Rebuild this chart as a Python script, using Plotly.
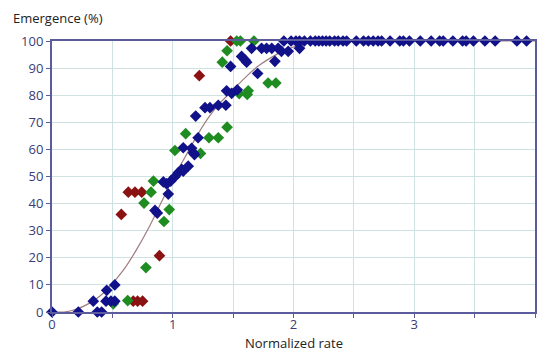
import plotly.graph_objects as go

# Blue series
blue_x = [0.0, 0.218, 0.342, 0.375, 0.411, 0.447, 0.453, 0.488, 0.52, 0.52,
          0.853, 0.872, 0.963, 0.922, 0.949, 0.983, 1.018, 1.046, 1.074, 1.087,
          1.128, 1.087, 1.156, 1.17, 1.18, 1.21, 1.19, 1.267, 1.308, 1.377, 1.44,
          1.446, 1.488, 1.534, 1.479, 1.57, 1.598, 1.612, 1.703, 1.846, 1.653,
          1.736, 1.777, 1.82, 1.873, 1.90, 1.956, 2.05,
          1.92, 1.98, 2.02, 2.05, 2.09, 2.14, 2.18, 2.21, 2.24, 2.27, 2.30, 2.34,
          2.37, 2.41, 2.44, 2.52, 2.58, 2.62, 2.66, 2.70, 2.73, 2.80, 2.88, 2.91,
          2.96, 3.05, 3.14, 3.21, 3.24, 3.32, 3.40, 3.43, 3.49, 3.585, 3.67, 3.85, 3.93]
blue_y = [0, 0, 4, 0, 0, 4, 8, 4, 4, 10,
          37.5, 36.5, 43.5, 48, 47.3, 48.3, 49.9, 51.4, 52.6, 52,
          53.8, 60.6, 60.4, 58.8, 58.1, 64.3, 72.3, 75.4, 75.4, 76.3, 76.3,
          81.6, 80.7, 82, 90.6, 94.3, 93, 92.2, 88, 92.5, 97.3,
          97.3, 97.3, 97.3, 97.3, 96.2, 96.2, 97.3,
          100, 100, 100, 100, 100, 100, 100, 100, 100, 100, 100, 100,
          100, 100, 100, 100, 100, 100, 100, 100, 100, 100, 100, 100,
          100, 100, 100, 100, 100, 100, 100, 100, 100, 100, 100, 100, 100]

# Green series
green_x = [0.507, 0.627, 0.778, 0.927, 0.971, 0.762, 0.82, 0.84, 1.018, 1.107,
           1.23, 1.30, 1.377, 1.45, 1.55, 1.617, 1.625, 1.79, 1.854, 1.41,
           1.45, 1.53, 1.56, 1.672]
green_y = [3, 4.2, 16.4, 33.4, 37.8, 40.2, 44.2, 48.3, 59.6, 65.8,
           58.5, 64.3, 64.3, 68.2, 80.6, 80.3, 81.6, 84.5, 84.5, 92.2,
           96.4, 100, 100, 100]

# Red series
red_x = [0.673, 0.709, 0.75, 0.574, 0.632, 0.687, 0.743, 0.89, 1.22, 1.479]
red_y = [4, 4, 4, 36, 44.2, 44.2, 44.2, 20.8, 87.2, 100]

# Fitted curve
curve_x = [0, 0.1, 0.2, 0.3, 0.4, 0.5, 0.6, 0.7, 0.8, 0.9, 1.0, 1.1, 1.2, 1.3,
           1.4, 1.5, 1.6, 1.7, 1.8, 1.9, 2.0, 2.1, 2.2, 2.3, 4.0]
curve_y = [0, 0, 1, 3, 6, 10.5, 16, 23, 31, 40, 49, 57, 65, 72,
           77.5, 82, 86.5, 90.5, 93.5, 96, 97.8, 99, 99.7, 100, 100]

x_tickvals = [0, 0.5, 1, 1.5, 2, 2.5, 3, 3.5, 4]
x_ticktext = ["0", "", "1", "", "2", "", "3", "", "4"]
y_tickvals = [0, 10, 20, 30, 40, 50, 60, 70, 80, 90, 100]

BLUE = "#11118a"
GREEN = "#1f8c22"
RED = "#8a1212"
AXIS = "#5c5c9c"
GRID = "#cfe2e2"
TICKFONT = "#3b3b78"

fig = go.Figure()
fig.add_trace(go.Scatter(x=curve_x, y=curve_y, mode="lines",
                         line=dict(color="#a07c80", width=1.2, shape="spline"),
                         hoverinfo="skip", cliponaxis=False))
fig.add_trace(go.Scatter(x=red_x, y=red_y, mode="markers",
                         marker=dict(symbol="diamond", size=9, color=RED),
                         cliponaxis=False))
fig.add_trace(go.Scatter(x=green_x, y=green_y, mode="markers",
                         marker=dict(symbol="diamond", size=9, color=GREEN),
                         cliponaxis=False))
fig.add_trace(go.Scatter(x=blue_x, y=blue_y, mode="markers",
                         marker=dict(symbol="diamond", size=9, color=BLUE),
                         cliponaxis=False))

fig.update_layout(
    width=538, height=351,
    margin=dict(l=52, r=3, t=41, b=39),
    paper_bgcolor="white", plot_bgcolor="white",
    showlegend=False,
    font=dict(family="Open Sans, Noto Sans, sans-serif", size=13, color=TICKFONT),
)
fig.update_xaxes(range=[0, 4], tickvals=x_tickvals, ticktext=x_ticktext,
                 showgrid=True, gridcolor=GRID, gridwidth=1,
                 showline=True, linecolor=AXIS, linewidth=2, mirror=True,
                 ticks="outside", ticklen=4, tickcolor=AXIS,
                 zeroline=False, automargin=False, ticklabelstandoff=-5,
                 tickfont=dict(size=13, color=TICKFONT))
fig.update_yaxes(range=[0, 100], tickvals=y_tickvals,
                 showgrid=True, gridcolor=GRID, gridwidth=1,
                 showline=True, linecolor=AXIS, linewidth=2, mirror=True,
                 ticks="outside", ticklen=4, tickcolor=AXIS,
                 zeroline=False, automargin=False,
                 tickfont=dict(size=13, color=TICKFONT))

fig.add_annotation(text="Emergence (%)", xref="paper", yref="paper",
                   x=-0.085, y=1.0, xanchor="left", yanchor="bottom", yshift=12,
                   showarrow=False, font=dict(size=13, color="#222222"))
fig.add_annotation(text="Normalized rate", xref="paper", yref="paper",
                   x=0.5, y=0, xanchor="center", yanchor="top", yshift=-20,
                   showarrow=False, font=dict(size=13, color="#222222"))

fig.write_html("out.html", config={"displayModeBar": False},
               post_script="document.body.style.margin='0';document.body.style.overflow='hidden';")
